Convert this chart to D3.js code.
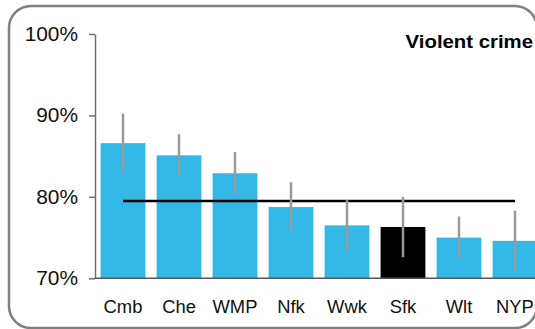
<!DOCTYPE html>
<html><head><meta charset="utf-8">
<script src="https://cdn.jsdelivr.net/npm/d3@7"></script>
<style>html,body{margin:0;padding:0;background:#fff;}svg{display:block;font-family:"Liberation Sans",Arial,sans-serif;}</style>
</head><body>
<svg id="c" width="535" height="329"></svg>
<script>
const categories = ["Cmb","Che","WMP","Nfk","Wwk","Sfk","Wlt","NYP"];
const values     = [86.6, 85.1, 82.9, 78.75, 76.5, 76.3, 75.0, 74.6];
const errLow     = [83.0, 82.7, 80.4, 75.7, 73.4, 72.6, 72.5, 70.9];
const errHigh    = [90.25, 87.7, 85.5, 81.8, 79.6, 80.0, 77.6, 78.3];
const highlight  = ["Sfk"];
const average    = 79.5;
const yTicks     = [70, 80, 90, 100];
const title      = "Violent crime";

const svg = d3.select("#c");
svg.append("rect").attr("x",9).attr("y",6).attr("width",528).attr("height",322)
  .attr("rx",22).attr("ry",22).attr("fill","#fff").attr("stroke","#808080").attr("stroke-width",2.5);

const x = d3.scaleBand().domain(categories).range([95,543]).paddingInner(0.2).paddingOuter(0.1);
const y = d3.scaleLinear().domain([70,100]).range([278.3,34]);

function stretch(sel, k){ sel.each(function(){ const w=this.getComputedTextLength(); this.setAttribute("textLength", w*k); this.setAttribute("lengthAdjust","spacingAndGlyphs"); }); }

// bars
svg.selectAll("rect.bar").data(categories).enter().append("rect").attr("class","bar")
  .attr("x",d=>x(d)).attr("width",x.bandwidth())
  .attr("y",(d,i)=>y(values[i])).attr("height",(d,i)=>y(70)-y(values[i]))
  .attr("fill",d=>highlight.includes(d)?"#000":"#33b8e8");

// y axis
const ya = svg.append("g").attr("transform","translate(95,0)")
  .call(d3.axisLeft(y).tickValues(yTicks).tickFormat(d=>d+"%").tickSize(6).tickSizeOuter(0).tickPadding(11));
ya.select(".domain").attr("stroke","#707070").attr("stroke-width",1.5);
ya.selectAll(".tick line").attr("stroke","#707070").attr("stroke-width",1.5);
ya.selectAll(".tick text").attr("font-size",19.5).attr("fill","#111").attr("font-family","Liberation Sans, Arial, sans-serif");
stretch(ya.selectAll(".tick text"),1.07);

// baseline
svg.append("line").attr("x1",95).attr("x2",543).attr("y1",y(70)).attr("y2",y(70)).attr("stroke","#555").attr("stroke-width",1.5);

// x labels
const xl = svg.append("g").selectAll("text").data(categories).enter().append("text")
  .attr("x",d=>x(d)+x.bandwidth()/2).attr("y",312.5).attr("text-anchor","middle")
  .attr("font-size",17.5).attr("fill","#111").text(d=>d);
stretch(xl,1.05);

// average line
svg.append("line").attr("x1",x(categories[0])+x.bandwidth()/2).attr("x2",x(categories[categories.length-1])+x.bandwidth()/2)
  .attr("y1",y(average)).attr("y2",y(average)).attr("stroke","#000").attr("stroke-width",2.5);

// error bars
svg.selectAll("line.err").data(categories).enter().append("line").attr("class","err")
  .attr("x1",d=>x(d)+x.bandwidth()/2).attr("x2",d=>x(d)+x.bandwidth()/2)
  .attr("y1",(d,i)=>y(errHigh[i])).attr("y2",(d,i)=>y(errLow[i]))
  .attr("stroke","#9a9a9a").attr("stroke-width",2.5);

// title
const t = svg.append("text").attr("x",533).attr("y",48).attr("text-anchor","end")
  .attr("font-size",18).attr("font-weight","bold").attr("fill","#000").text(title);
stretch(t,1.13);
</script>
</body></html>
